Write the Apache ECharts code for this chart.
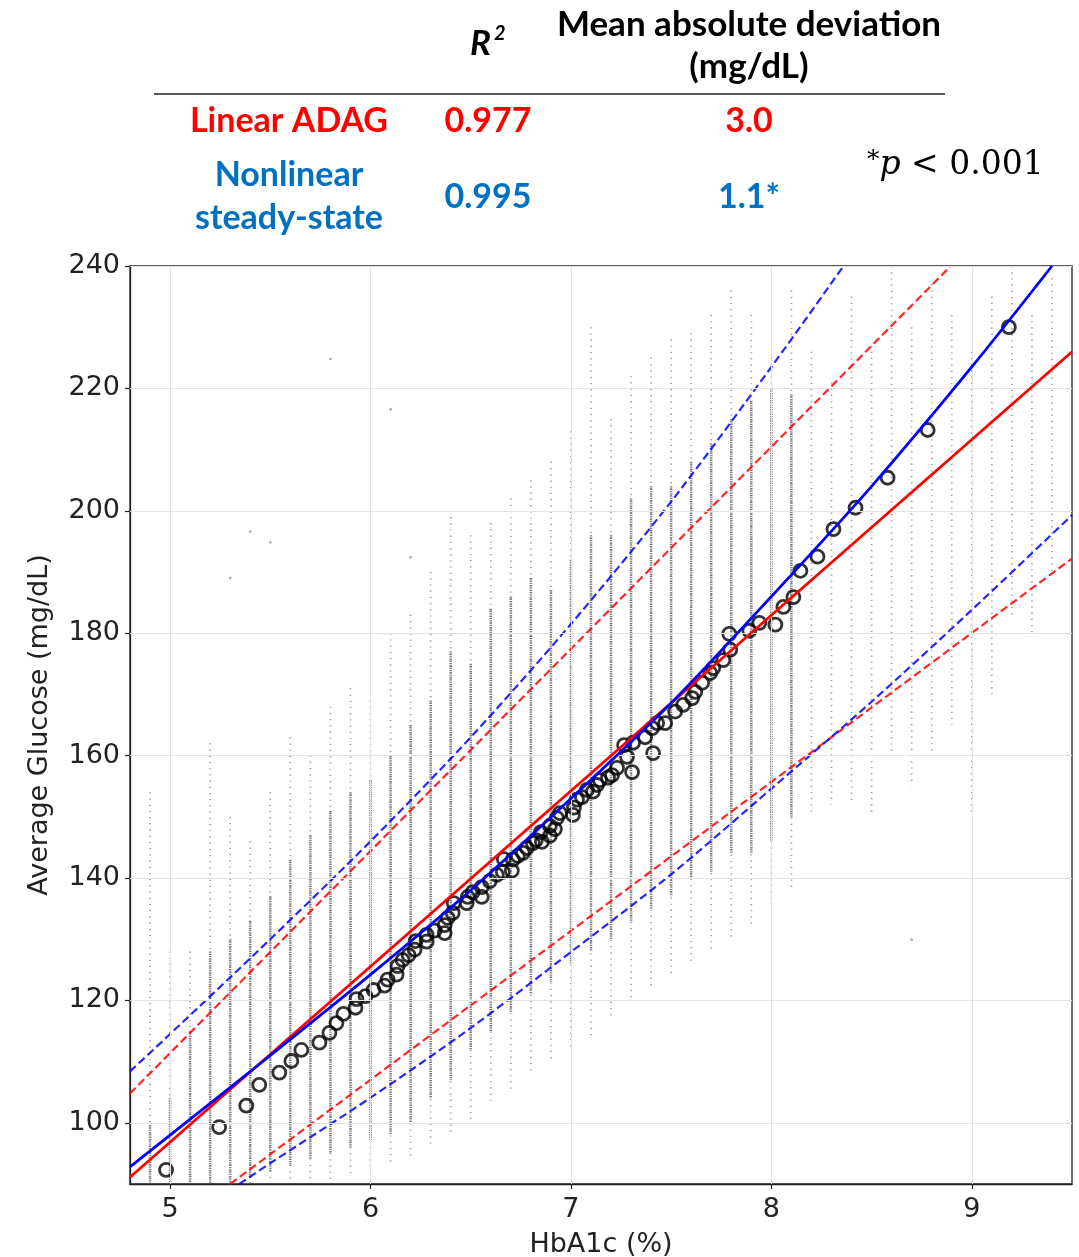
<!DOCTYPE html>
<html><head><meta charset="utf-8">
<script src="https://cdn.jsdelivr.net/npm/echarts@6/dist/echarts.min.js"></script>
<style>html,body{margin:0;padding:0;background:#fff}#c{width:1079px;height:1257px}</style>
</head><body><div id="c"></div>
<script>
// ---- tick labels ----
const xTicks = [5, 6, 7, 8, 9];
const yTicks = [100, 120, 140, 160, 180, 200, 220, 240];

// ---- Linear ADAG fit and +/- band ----
const linX = [4.8, 9.5];
const linY = [91.1, 226.0];
const linUpX = [4.8, 8.895];
const linUpY = [104.8, 240.0];
const linLoX = [5.30, 9.5];
const linLoY = [90.0, 192.2];

// ---- Nonlinear steady-state curve and band ----
const nlX = [4.8, 5.0, 5.5, 6.0, 6.5, 7.0, 7.5, 8.0, 8.5, 9.0, 9.4];
const nlY = [92.8, 98.0, 111.0, 124.2, 138.0, 153.0, 168.6, 186.0, 204.0, 223.5, 240.0];
const nlUpX = [4.8, 5.0, 5.5, 6.0, 6.5, 7.0, 7.5, 8.0, 8.36];
const nlUpY = [108.4, 114.5, 130.0, 146.0, 163.0, 181.5, 201.5, 223.5, 240.0];
const nlLoX = [5.345, 5.5, 6.0, 6.5, 7.0, 7.5, 8.0, 8.5, 9.0, 9.5];
const nlLoY = [90.0, 93.4, 104.1, 115.5, 127.9, 140.6, 154.6, 168.8, 183.8, 199.3];

// ---- binned means (open circles) ----
const meanX = [4.98,5.245,5.38,5.445,5.545,5.605,5.655,5.745,5.795,5.83,5.865,5.925,5.93,5.975,6.015,6.07,6.085,6.13,6.135,6.16,6.19,6.22,6.225,6.28,6.28,6.32,6.37,6.37,6.385,6.41,6.415,6.48,6.485,6.51,6.555,6.555,6.595,6.63,6.66,6.665,6.705,6.71,6.735,6.76,6.78,6.81,6.825,6.855,6.85,6.895,6.895,6.92,6.93,6.945,7.01,7.015,7.03,7.055,7.08,7.11,7.13,7.145,7.185,7.205,7.23,7.28,7.305,7.265,7.31,7.37,7.41,7.405,7.43,7.47,7.52,7.56,7.605,7.62,7.655,7.695,7.71,7.76,7.795,7.79,7.89,7.94,8.02,8.06,8.11,8.145,8.23,8.31,8.42,8.58,8.78,9.185];
const meanY = [92.3,99.3,102.8,106.2,108.2,110.1,111.9,113.1,114.7,116.3,117.8,118.8,120.2,120.7,121.7,122.4,123.4,124.2,125.6,126.6,127.4,128.3,129.7,129.6,130.7,131.4,131.0,132.3,133.5,134.3,135.9,135.9,136.9,137.7,136.9,138.5,139.5,140.5,141.0,143.1,141.2,143.0,143.6,144.1,144.9,145.7,146.2,145.9,147.5,146.9,148.5,148.0,149.8,150.6,150.3,151.5,152.8,153.2,154.4,154.1,155.2,156.0,156.4,156.8,158.0,159.8,157.3,161.7,162.1,163.0,160.4,164.5,165.3,165.3,167.2,168.3,169.4,170.4,171.9,173.5,174.3,175.6,177.3,179.9,180.4,181.7,181.4,184.3,185.9,190.2,192.5,197.0,200.5,205.4,213.2,230.0];

// ---- individual measurements: columns of grey dots per HbA1c value ----
const colX = [4.9,5.0,5.1,5.2,5.3,5.4,5.5,5.6,5.7,5.8,5.9,6.0,6.1,6.2,6.3,6.4,6.5,6.6,6.7,6.8,6.9,7.0,7.1,7.2,7.3,7.4,7.5,7.6,7.7,7.8,7.9,8.0,8.1,8.2,8.3,8.4,8.5,8.6,8.7,8.8,8.9,9.0,9.1,9.2,9.3,9.4];
const sparseLo = [90,90,90,90,90,90,90,90,90,90,91,92,93,94,96,98,100,103,105,108,110,112,114,117,120,122,124,126,128,130,132,135,138,150,152,152,150,160,155,160,165,150,170,183,180,190];
const sparseHi = [154,128,128,162,150,146,154,163,160,168,171,169,180,183,190,200,196,198,202,205,208,213,230,215,222,225,228,229,232,236,232,225,236,226,221,235,226,240,230,237,232,226,235,240,232,238];
const denseLo = [90,90,90,90,90,91,92,93,94,95,96,97,98,100,104,107,112,115,118,121,123,126,128,130,133,135,137,140,141,144,144,146,150,null,null,null,null,null,null,null,null,null,null,null,null,null];
const denseHi = [100,104,115,128,130,133,137,143,147,151,154,156,160,165,169,177,175,184,186,189,187,192,196,196,202,204,204,208,211,215,218,220,219,null,null,null,null,null,null,null,null,null,null,null,null,null];
const outX = [5.8, 6.1, 5.4, 5.5, 5.3, 6.2, 8.7];
const outY = [224.8, 216.6, 196.6, 194.8, 189.0, 192.4, 129.9];

const pts = (xs, ys) => xs.map((x, i) => [x, ys[i]]);
const sparseData = colX.map((x, i) => [x, sparseLo[i], sparseHi[i]]);
const denseData = colX.map((x, i) => [x, denseLo[i], denseHi[i]]).filter(d => d[1] != null);

function colRender(width, dash, color) {
  return function (params, api) {
    const x = api.value(0), lo = api.value(1), hi = api.value(2);
    const a = api.coord([x, hi]), b = api.coord([x, lo]);
    return { type: 'line', shape: { x1: a[0], y1: a[1], x2: b[0], y2: b[1] },
      style: { stroke: color, lineWidth: width, lineDash: dash } };
  };
}

const RED = '#ff0000', BLUE = '#0070c0';
const TF = 'Lato, "Open Sans", sans-serif';
const AX = '"DejaVu Sans", sans-serif';
const SF = '"DejaVu Serif", serif';

const chart = echarts.init(document.getElementById('c'), null, { renderer: 'canvas' });
chart.setOption({
  animation: false,
  backgroundColor: '#fff',
  grid: { left: 130, right: 7, top: 266, bottom: 73, outerBoundsMode: 'none', containLabel: false,
    show: true, borderColor: '#222', borderWidth: 1.3, backgroundColor: 'transparent' },
  xAxis: {
    type: 'value', min: 4.8, max: 9.5,
    axisLine: { show: true, lineStyle: { color: '#222', width: 1.3 } },
    axisTick: { show: true, customValues: xTicks, length: 5, lineStyle: { color: '#222', width: 1.2 } },
    axisLabel: { customValues: xTicks, fontSize: 27, fontFamily: AX, color: '#222', margin: 12 },
    splitLine: { show: false },
    name: 'HbA1c (%)', nameLocation: 'middle', nameGap: 47,
    nameTextStyle: { fontSize: 27, fontFamily: AX, color: '#222' }
  },
  yAxis: {
    type: 'value', min: 90, max: 240,
    axisLine: { show: true, lineStyle: { color: '#222', width: 1.3 } },
    axisTick: { show: true, customValues: yTicks, length: 5, lineStyle: { color: '#222', width: 1.2 } },
    axisLabel: { customValues: yTicks, fontSize: 27, fontFamily: AX, color: '#222', margin: 10 },
    splitLine: { show: false },
    name: 'Average Glucose (mg/dL)', nameLocation: 'middle', nameGap: 77, nameRotate: 90,
    nameTextStyle: { fontSize: 27, fontFamily: AX, color: '#222' }
  },
  series: [
    { type: 'line', data: [[xTicks[0], yTicks[0]]], showSymbol: false, silent: true, z: 0,
      lineStyle: { opacity: 0 },
      markLine: { silent: true, symbol: ['none', 'none'], label: { show: false },
        lineStyle: { color: '#e3e3e3', width: 1, type: 'solid' },
        data: xTicks.map(v => ({ xAxis: v })).concat(yTicks.map(v => ({ yAxis: v }))) } },
    { type: 'custom', data: sparseData, renderItem: colRender(1.7, [1.2, 5], 'rgba(90,90,90,0.6)'), clip: true, z: 1, silent: true,
      encode: { x: 0, y: [1, 2] } },
    { type: 'custom', data: denseData, renderItem: colRender(2.6, [1.3, 1.0], 'rgba(85,85,85,0.72)'), clip: true, z: 1, silent: true,
      encode: { x: 0, y: [1, 2] } },
    { type: 'scatter', data: pts(outX, outY), symbolSize: 2.5, itemStyle: { color: 'rgba(90,90,90,0.7)' }, z: 1, silent: true },
    { type: 'scatter', data: pts(meanX, meanY), symbol: 'circle', symbolSize: 13,
      itemStyle: { color: 'rgba(255,255,255,0)', borderColor: '#000', borderWidth: 2.8 }, z: 3, silent: true },
    { type: 'line', data: pts(linUpX, linUpY), showSymbol: false, clip: true, z: 4,
      lineStyle: { color: 'rgba(255,0,0,0.85)', width: 2.2, type: [8, 4] } },
    { type: 'line', data: pts(linLoX, linLoY), showSymbol: false, clip: true, z: 4,
      lineStyle: { color: 'rgba(255,0,0,0.85)', width: 2.2, type: [8, 4] } },
    { type: 'line', data: pts(nlUpX, nlUpY), showSymbol: false, clip: true, z: 4, smooth: 0.3,
      lineStyle: { color: 'rgba(0,0,255,0.85)', width: 2.2, type: [8, 4] } },
    { type: 'line', data: pts(nlLoX, nlLoY), showSymbol: false, clip: true, z: 4, smooth: 0.3,
      lineStyle: { color: 'rgba(0,0,255,0.85)', width: 2.2, type: [8, 4] } },
    { type: 'line', data: pts(linX, linY), showSymbol: false, clip: true, z: 5,
      lineStyle: { color: '#ff0000', width: 2.8 } },
    { type: 'line', data: pts(nlX, nlY), showSymbol: false, clip: true, z: 5, smooth: 0.3,
      lineStyle: { color: '#0000ff', width: 2.8 } }
  ],
  graphic: [
    { type: 'text', left: 470, top: 26, style: { text: 'R', font: 'italic bold 35px ' + TF, fill: '#000' } },
    { type: 'text', left: 494, top: 24, style: { text: '2', font: 'italic bold 20px ' + TF, fill: '#000' } },
    { type: 'text', x: 749, y: 25, style: { text: 'Mean absolute deviation', font: 'bold 35px ' + TF, fill: '#000', align: 'center', verticalAlign: 'middle' } },
    { type: 'text', x: 749, y: 67, style: { text: '(mg/dL)', font: 'bold 35px ' + TF, fill: '#000', align: 'center', verticalAlign: 'middle' } },
    { type: 'line', shape: { x1: 154, y1: 94, x2: 945, y2: 94 }, style: { stroke: '#222', lineWidth: 1.5 } },
    { type: 'text', x: 289, y: 121, style: { text: 'Linear ADAG', font: 'bold 34px ' + TF, fill: RED, align: 'center', verticalAlign: 'middle' } },
    { type: 'text', x: 488, y: 121, style: { text: '0.977', font: 'bold 34px ' + TF, fill: RED, align: 'center', verticalAlign: 'middle' } },
    { type: 'text', x: 749, y: 121, style: { text: '3.0', font: 'bold 34px ' + TF, fill: RED, align: 'center', verticalAlign: 'middle' } },
    { type: 'text', x: 289, y: 175, style: { text: 'Nonlinear', font: 'bold 34px ' + TF, fill: BLUE, align: 'center', verticalAlign: 'middle' } },
    { type: 'text', x: 289, y: 218, style: { text: 'steady-state', font: 'bold 34px ' + TF, fill: BLUE, align: 'center', verticalAlign: 'middle' } },
    { type: 'text', x: 488, y: 197, style: { text: '0.995', font: 'bold 34px ' + TF, fill: BLUE, align: 'center', verticalAlign: 'middle' } },
    { type: 'text', x: 749, y: 197, style: { text: '1.1*', font: 'bold 34px ' + TF, fill: BLUE, align: 'center', verticalAlign: 'middle' } },
    { type: 'text', x: 867, y: 165, style: { text: '{s|*}{p|p}{n| < 0.001}', verticalAlign: 'middle',
        rich: { s: { font: '25px ' + SF, fill: '#000', verticalAlign: 'top', padding: [0, 0, 10, 0] },
                p: { font: 'italic 33px ' + SF, fill: '#000' },
                n: { font: '33px ' + SF, fill: '#000' } } } }
  ]
});
</script></body></html>
